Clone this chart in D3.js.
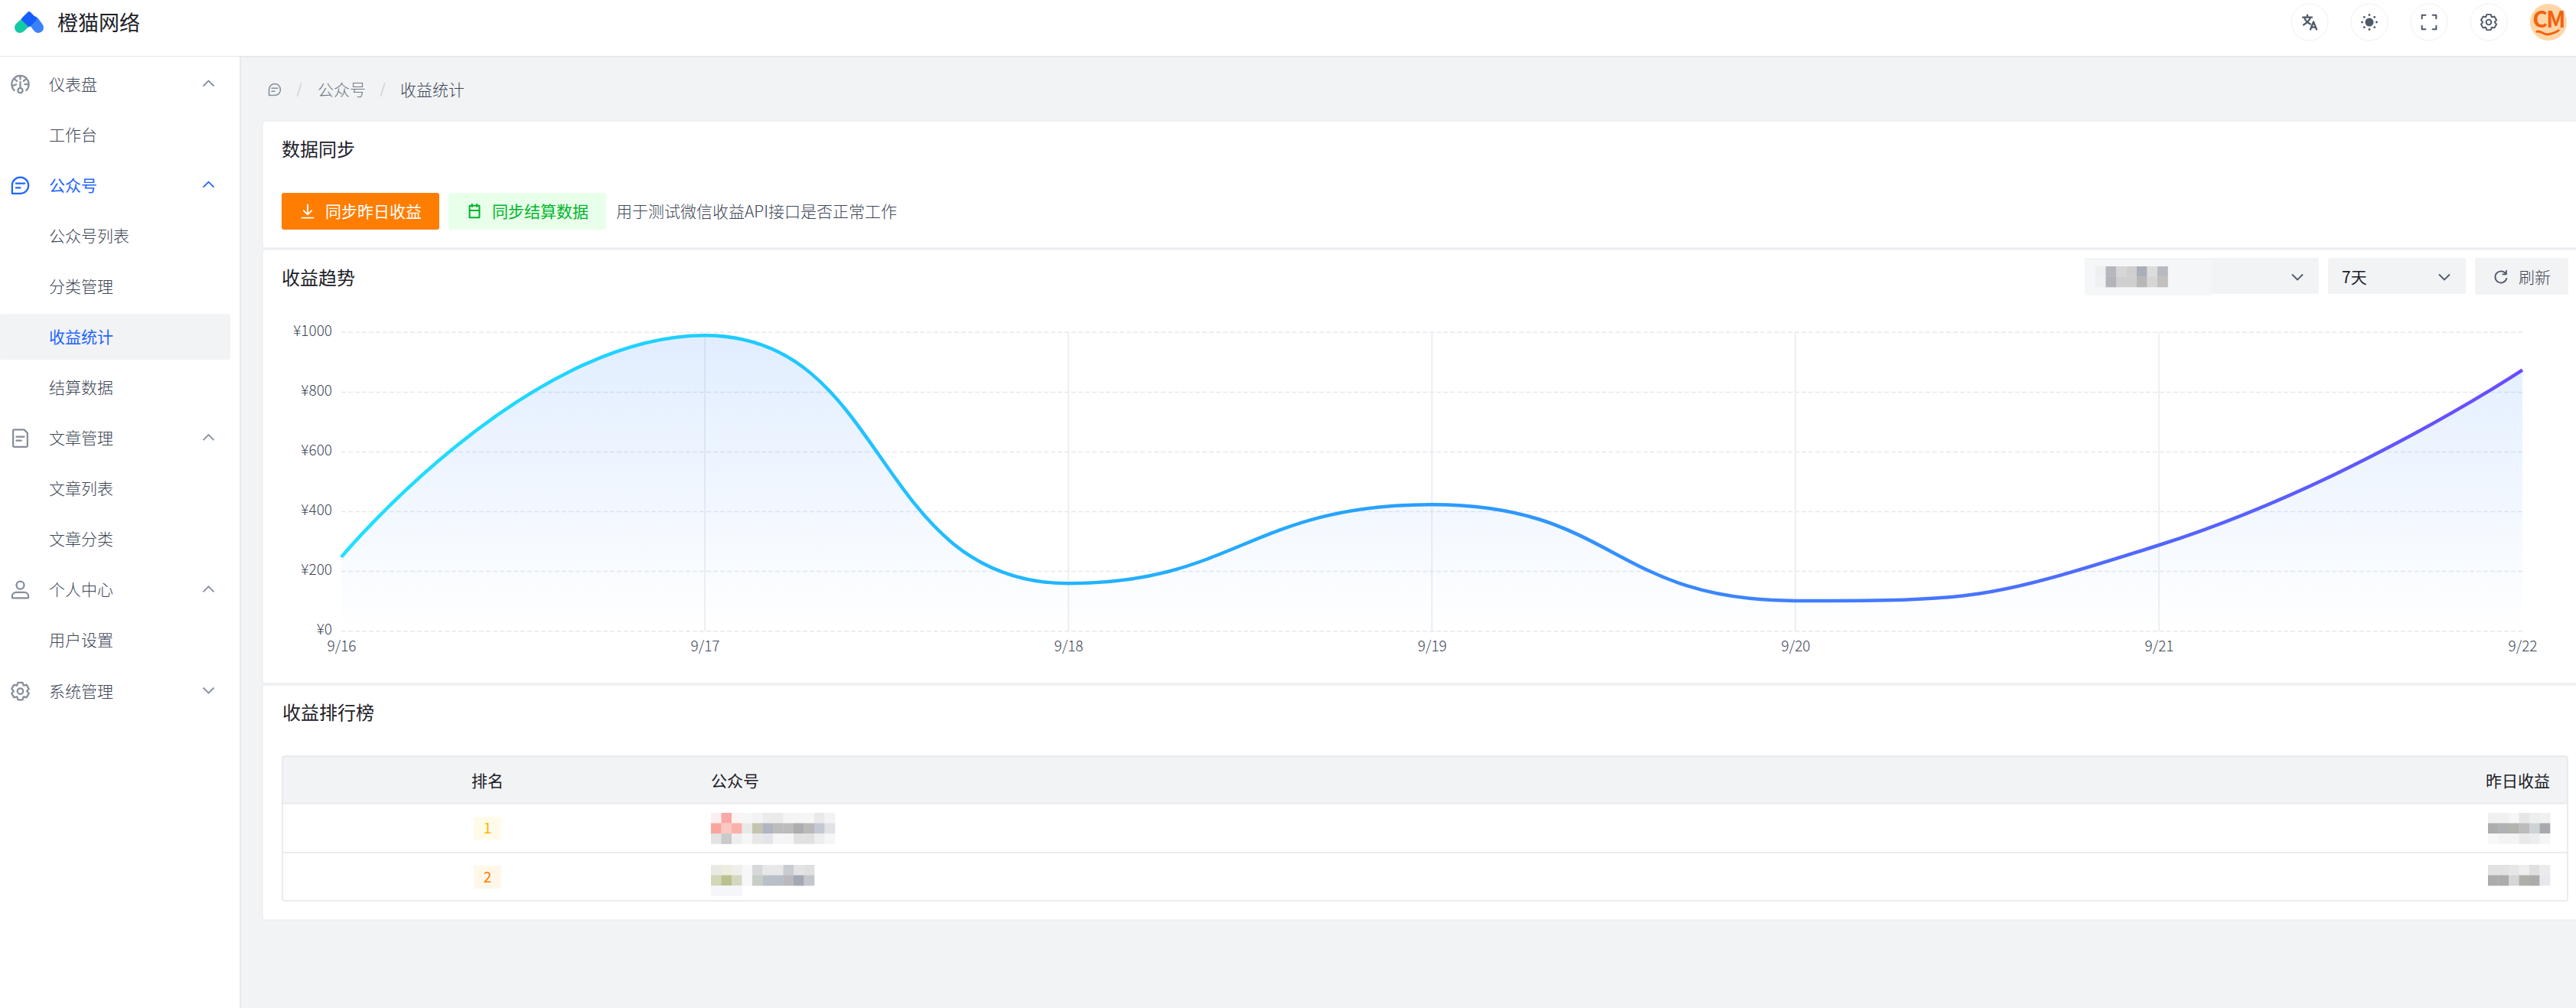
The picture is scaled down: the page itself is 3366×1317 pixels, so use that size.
<!DOCTYPE html>
<html>
<head>
<meta charset="utf-8">
<script src="https://cdn.jsdelivr.net/npm/d3@7"></script>
<style>
  html, body { margin: 0; background: #f2f3f5; overflow: hidden; }
  svg { display: block; }
  text { font-family: "Noto Sans CJK SC", "Noto Sans", sans-serif; font-weight: 400; }
  text.thin { font-weight: 300; }
</style>
</head>
<body>
<svg id="page" width="3366" height="1317"></svg>
<script>
// chart data
const dates = ["9/16", "9/17", "9/18", "9/19", "9/20", "9/21", "9/22"];
const income = [248, 990, 160, 424, 102, 288, 874];
const yTicks = [0, 200, 400, 600, 800, 1000];
const lineColors = ["#1fe0ff", "#20ceff", "#22b4ff", "#2a9eff", "#3f80ff", "#5266ff", "#6a4cff"];

// side menu
const menuLabels = ["仪表盘", "工作台", "公众号", "公众号列表", "分类管理", "收益统计", "结算数据", "文章管理", "文章列表", "文章分类", "个人中心", "用户设置", "系统管理"];
const menuIcons = ["dash", null, "chat", null, null, null, null, "file", null, null, "user", null, "gear"];

// ranking table
const rankNumbers = [1, 2];

// pixelated (redacted) blocks
const mosaicName1 = [
  ["#fbeeee", "#f9a8a8", "#fbf3f3", "#f6f6f6", "#f3f3f3", "#ebebeb", "#ebebeb", "#f5f5f7", "#f5f5f5", "#f6f6f6", "#e9e9e9", "#f3f3f6"],
  ["#f9a59d", "#fbc8c2", "#fbb0aa", "#e9e9e9", "#c4c4b0", "#b1b5c2", "#bcbcbc", "#bcbcbc", "#adadad", "#b9b9b9", "#c4c8d2", "#e0e2e6"],
  ["#e3e3e3", "#c8cacc", "#eeeeee", "#f6f6f6", "#e8e8e8", "#e3e5ea", "#f5f5f5", "#f5f5f5", "#e1e1e1", "#e1e1e1", "#eeeef0", "#f5f6f8"]
];
const mosaicName2 = [
  ["#e9e9e3", "#ececdf", "#efefe9", "#f8f6f8", "#d6d8da", "#e8e8e8", "#e8e8e8", "#c8ccd0", "#e3e3e5", "#dfdfdf"],
  ["#d3d6b8", "#bcc08c", "#d3d8c0", "#f6f6f6", "#c8cdc8", "#b9c0c8", "#b9bfc6", "#bbb8be", "#a4a8b2", "#c3c7cd"],
  ["#f5f6f9", "#f5f6f9", "#f5f6f9"]
];
const mosaicIncome1 = [
  ["#f0f0f2", "#f0f0f0", "#f6f6f8", "#e6e6e6", "#eceeef", "#f0f0ee"],
  ["#adadad", "#b0b2b4", "#b4b4ae", "#bcbcbc", "#ced4d6", "#a7a9ac"],
  ["#f8f8f8", "#f4f4f4", "#f4f4f4", "#e9e9e9", "#ebedee", "#f5f6f7"]
];
const mosaicIncome2 = [
  ["#e2e2e2", "#e2e2e2", "#e6e6e8", "#eeeeee", "#e0e0e0", "#ebebee"],
  ["#acacac", "#acacac", "#d6d6d8", "#b0b0aa", "#acacac", "#e8e8ec"]
];
const mosaicSelect = [
  ["#eeeff1", "#b5b7bd", "#d6d6d6", "#cfcfcf", "#a9aeb9", "#dcdcdc", "#b8babf"],
  ["#eff0f1", "#b3b4ba", "#cfcfcf", "#cfcfcf", "#b9b7b5", "#d6d6d6", "#c2bfbd"]
];

const BLUE = "#1f66ff", TEXT = "#4e5969", DARK = "#3c4656", TITLE = "#1d2129", LINE = "#e5e6eb", FILL = "#f2f3f5";

const svg = d3.select("#page");
const defs = svg.append("defs");

const addText = (parent, x, y, str, size, color, anchor = "start") =>
  parent.append("text").attr("x", x).attr("y", y).attr("dy", "0.36em")
    .attr("font-size", size).attr("fill", color).attr("text-anchor", anchor).text(str);

// thin grey copy, the original font is lighter than Noto regular
const addThin = (parent, x, y, str, size, color = DARK, anchor = "start") =>
  addText(parent, x, y, str, size, color, anchor).classed("thin", true);

const addRect = (parent, x, y, w, h, fill, r = 0) =>
  parent.append("rect").attr("x", x).attr("y", y).attr("width", w).attr("height", h)
    .attr("rx", r).attr("fill", fill);

// icons are written on a 48 unit box, centred on cx,cy
const iconPaths = {
  dash: "M41.808 24c.118 4.63-1.486 9.333-5.21 13m5.21-13h-8.309m8.309 0c-.112-4.38-1.767-8.694-4.627-12M24 6c5.531 0 10.07 2.404 13.18 6M24 6c-5.724 0-10.384 2.574-13.5 6.38M24 6v7.5M37.18 12 31 17.5m-20.5-5.12L17 17.5m-6.5-5.12C6.99 16.662 5.44 22.508 6.53 28m4.872 9c-2.65-2.609-4.226-5.742-4.873-9m0 0 8.97-3.5M24 32a5 5 0 1 0 0 10 5 5 0 0 0 0-10Zm0 0V19",
  chat: "M15 20h18m-18 9h9M7 41h17.63C33.67 41 41 33.67 41 24.63V24c0-9.389-7.611-17-17-17S7 14.611 7 24v17Z",
  file: "M16 21h16m-16 8h10m11 13H11a2 2 0 0 1-2-2V8a2 2 0 0 1 2-2h21l7 7v27a2 2 0 0 1-2 2Z",
  user: "M7 37c0-4.97 4.03-8 9-8h16c4.97 0 9 3.03 9 8v3a1 1 0 0 1-1 1H8a1 1 0 0 1-1-1v-3ZM32 14a8 8 0 1 1-16 0 8 8 0 0 1 16 0Z",
  gear: "M18.797 6.732A1 1 0 0 1 19.76 6h8.48a1 1 0 0 1 .964.732l1.285 4.628a1 1 0 0 0 1.213.7l4.651-1.2a1 1 0 0 1 1.116.468l4.24 7.344a1 1 0 0 1-.153 1.2L38.193 23.3a1 1 0 0 0 0 1.402l3.364 3.427a1 1 0 0 1 .153 1.2l-4.24 7.344a1 1 0 0 1-1.116.468l-4.65-1.2a1 1 0 0 0-1.214.7l-1.285 4.628a1 1 0 0 1-.964.732h-8.48a1 1 0 0 1-.963-.732L17.51 36.64a1 1 0 0 0-1.213-.7l-4.65 1.2a1 1 0 0 1-1.116-.468l-4.24-7.344a1 1 0 0 1 .153-1.2L9.809 24.7a1 1 0 0 0 0-1.402l-3.364-3.427a1 1 0 0 1-.153-1.2l4.24-7.344a1 1 0 0 1 1.116-.468l4.65 1.2a1 1 0 0 0 1.213-.7l1.286-4.628ZM30 24a6 6 0 1 1-12 0 6 6 0 0 1 12 0Z",
  down: "M24 6v26M13 22l11 11 11-11M8 42h32",
  calendar: "M10 8h28v34H10zM10 22h28M17 4v7M31 4v7",
  refresh: "M40 28a16.5 16.5 0 1 1-2-13M39 6v10H29",
  translate: "M6 11h24M18 5v6M10 11c2 8 8 14 16 18M26 11c-2 8-8 14-18 20M26 43l8-20 8 20M29 37h10",
  expand: "M8 16V8h8M32 8h8v8M40 32v8h-8M16 40H8v-8"
};

function addIcon(parent, key, cx, cy, size, color, width = 4) {
  parent.append("path").attr("d", iconPaths[key])
    .attr("transform", `translate(${cx - size / 2},${cy - size / 2}) scale(${size / 48})`)
    .attr("fill", "none").attr("stroke", color).attr("stroke-width", width)
    .attr("stroke-linecap", "round").attr("stroke-linejoin", "round");
}

function addChevron(parent, cx, cy, color, up) {
  const d = up ? -1 : 1;
  parent.append("path").attr("d", `M${cx - 7},${cy - d * 3.5}L${cx},${cy + d * 3.5}L${cx + 7},${cy - d * 3.5}`)
    .attr("fill", "none").attr("stroke", color).attr("stroke-width", 1.8);
}

function addMosaic(parent, rows, x0, y0, cell = 13.5) {
  rows.forEach((row, r) => {
    parent.append("g").selectAll("rect").data(row).join("rect")
      .attr("x", (d, i) => x0 + i * cell).attr("y", y0 + r * cell)
      .attr("width", cell + 0.3).attr("height", cell + 0.3).attr("fill", d => d);
  });
}

// ---------- page frame ----------
addRect(svg, 0, 0, 3366, 1317, FILL);
addRect(svg, 0, 0, 3366, 73, "#fff");
addRect(svg, 0, 73, 3366, 1.5, LINE);
addRect(svg, 0, 74, 313, 1243, "#fff");
addRect(svg, 313, 74, 2, 1243, "#e8e9ee");

// logo
const logo = svg.append("g").attr("fill", "none").attr("stroke-linecap", "round").attr("stroke-width", 14);
logo.append("line").attr("x1", 26).attr("y1", 36).attr("x2", 36).attr("y2", 27).attr("stroke", "#14c9a5");
logo.append("line").attr("x1", 44).attr("y1", 28).attr("x2", 50).attr("y2", 36).attr("stroke", "#3b82f7");
svg.append("path").attr("d", "M38,17L46,25L38,33L30,25Z").attr("fill", "#165dff")
  .attr("stroke", "#165dff").attr("stroke-width", 4).attr("stroke-linejoin", "round");
addText(svg, 75, 30, "橙猫网络", 27, TITLE);

// header buttons
const headerX = [3018, 3096, 3174, 3252];
svg.append("g").selectAll("ellipse").data(headerX).join("ellipse")
  .attr("cx", d => d).attr("cy", 29).attr("rx", 24).attr("ry", 24)
  .attr("fill", "#fff").attr("stroke", "#eff0f3").attr("stroke-width", 1);
addIcon(svg, "translate", headerX[0], 29, 24, TEXT, 4.5);
svg.append("circle").attr("cx", headerX[1]).attr("cy", 29).attr("r", 5.5).attr("fill", TEXT);
svg.append("g").selectAll("circle").data(d3.range(8)).join("circle")
  .attr("cx", d => headerX[1] + 9.5 * Math.cos(d * Math.PI / 4))
  .attr("cy", d => 29 + 9.5 * Math.sin(d * Math.PI / 4))
  .attr("r", 1.4).attr("fill", TEXT);
addIcon(svg, "expand", headerX[2], 29, 28, TEXT, 3.5);
addIcon(svg, "gear", headerX[3], 29, 27, TEXT, 3.5);

// avatar
svg.append("circle").attr("cx", 3330).attr("cy", 29).attr("r", 24).attr("fill", "#fdd6a8");
svg.append("text").attr("x", 3330).attr("y", 25).attr("dy", "0.36em").attr("text-anchor", "middle")
  .attr("font-size", 30).style("font-weight", 700).attr("letter-spacing", -2).attr("fill", "#f4620f").text("CM");
svg.append("path").attr("d", "M3314,42c5,-4 9,4 15,3s11,-2 15,-6").attr("fill", "none")
  .attr("stroke", "#f4620f").attr("stroke-width", 3);

// ---------- side menu ----------
addRect(svg, 0, 410, 301, 60, FILL, 3);
const menuY = d3.scaleLinear().domain([0, 12]).range([110, 903]);
menuLabels.forEach((label, i) => {
  const active = label === "公众号" || label === "收益统计";
  if (active) addText(svg, 64, menuY(i), label, 21, BLUE);
  else addThin(svg, 64, menuY(i), label, 21);
  if (menuIcons[i]) {
    addIcon(svg, menuIcons[i], 26.5, menuY(i), 30, active ? BLUE : "#868e9b", 3.6);
    addChevron(svg, 272.5, menuY(i) - 1, active ? BLUE : "#86909c", label !== "系统管理");
  }
});

// ---------- breadcrumb ----------
addIcon(svg, "chat", 359, 117, 21, "#86909c", 3.6);
addText(svg, 391, 117, "/", 18, "#c9cdd4", "middle");
addThin(svg, 415, 117, "公众号", 21, "#6f7885");
addText(svg, 500, 117, "/", 18, "#c9cdd4", "middle");
addThin(svg, 523, 117, "收益统计", 21);

// ---------- cards ----------
[[158, 166], [326, 567], [895, 307]].forEach(([top, h]) => {
  svg.append("rect").attr("x", 343).attr("y", top).attr("width", 3040).attr("height", h)
    .attr("rx", 3).attr("fill", "#fff").attr("stroke", "#e8e9ee").attr("stroke-width", 1);
});

// data sync card
addText(svg, 368, 195, "数据同步", 24, TITLE);
addRect(svg, 368, 252, 206, 48, "#ff7d00", 3);
addIcon(svg, "down", 402, 276, 23, "#fff", 3.8);
addText(svg, 425, 276, "同步昨日收益", 21, "#fff");
addRect(svg, 586, 252, 206, 48, "#e8ffea", 3);
addIcon(svg, "calendar", 620, 276, 22, "#00b42a", 4.5);
addText(svg, 643, 276, "同步结算数据", 21, "#00b42a");
addThin(svg, 805, 276, "用于测试微信收益API接口是否正常工作", 21);

// trend card header
addText(svg, 368, 363, "收益趋势", 24, TITLE);
addRect(svg, 2724, 337, 306, 47, FILL, 3);
addRect(svg, 2724, 339, 166, 47, "#f5f6f7", 3);
addMosaic(svg, mosaicSelect, 2738, 348);
addChevron(svg, 3002, 362, TEXT, false);
addRect(svg, 3042, 337, 180, 47, FILL, 3);
addText(svg, 3060, 362, "7天", 21, TITLE);
addChevron(svg, 3194, 362, TEXT, false);
addRect(svg, 3234, 337, 122, 48, FILL, 3);
addIcon(svg, "refresh", 3268, 362, 22, TEXT, 4);
addThin(svg, 3291, 362, "刷新", 21);

// ---------- income chart ----------
const x = d3.scalePoint().domain(dates).range([446, 3296]);
const y = d3.scaleLinear().domain([0, 1000]).range([824.7, 434.3]);

// same smoothing as the original chart lib: tangent from prev->next, clamped so peaks stay flat
function curveSmooth(context) {
  const smooth = 0.5;
  let pts = [], flag;
  return {
    areaStart() { flag = 0; },
    areaEnd() { flag = NaN; },
    lineStart() { pts = []; },
    point(px, py) { pts.push([px, py]); },
    lineEnd() {
      if (flag) context.lineTo(pts[0][0], pts[0][1]);
      else context.moveTo(pts[0][0], pts[0][1]);
      let cp0 = pts[0];
      for (let i = 0; i < pts.length - 1; i++) {
        const prev = pts[i], cur = pts[i + 1], next = pts[i + 2];
        if (!next) {
          context.bezierCurveTo(cp0[0], cp0[1], cur[0], cur[1], cur[0], cur[1]);
          break;
        }
        const lenPrev = Math.hypot(cur[0] - prev[0], cur[1] - prev[1]);
        const lenNext = Math.hypot(next[0] - cur[0], next[1] - cur[1]);
        const ratio = lenNext / (lenNext + lenPrev);
        const clamp = (v, a, b) => Math.max(Math.min(v, Math.max(a, b)), Math.min(a, b));
        const dx = next[0] - prev[0], dy = next[1] - prev[1];
        let nx = clamp(cur[0] + dx * smooth * ratio, next[0], cur[0]);
        let ny = clamp(cur[1] + dy * smooth * ratio, next[1], cur[1]);
        const cx = clamp(cur[0] - (nx - cur[0]) * lenPrev / lenNext, prev[0], cur[0]);
        const cy = clamp(cur[1] - (ny - cur[1]) * lenPrev / lenNext, prev[1], cur[1]);
        nx = cur[0] + (cur[0] - cx) * lenNext / lenPrev;
        ny = cur[1] + (cur[1] - cy) * lenNext / lenPrev;
        context.bezierCurveTo(cp0[0], cp0[1], cx, cy, cur[0], cur[1]);
        cp0 = [nx, ny];
      }
      if (flag) context.closePath();
      flag = 1 - flag;
    }
  };
}

const lineGrad = defs.append("linearGradient").attr("id", "lineGrad")
  .attr("gradientUnits", "userSpaceOnUse")
  .attr("x1", x.range()[0]).attr("x2", x.range()[1]).attr("y1", 0).attr("y2", 0);
lineGrad.selectAll("stop").data(lineColors).join("stop")
  .attr("offset", (d, i) => i / (lineColors.length - 1)).attr("stop-color", d => d);

const areaGrad = defs.append("linearGradient").attr("id", "areaGrad")
  .attr("gradientUnits", "userSpaceOnUse")
  .attr("x1", 0).attr("x2", 0).attr("y1", y(d3.max(income))).attr("y2", y(0));
areaGrad.append("stop").attr("offset", 0).attr("stop-color", "#1677ff").attr("stop-opacity", 0.13);
areaGrad.append("stop").attr("offset", 1).attr("stop-color", "#1677ff").attr("stop-opacity", 0);

const chart = svg.append("g");

// vertical grid, first and last category have none
chart.append("g").selectAll("line").data(dates.slice(1, -1)).join("line")
  .attr("x1", d => x(d)).attr("x2", d => x(d))
  .attr("y1", y(1000)).attr("y2", y(0))
  .attr("stroke", "#e8eaf1").attr("stroke-width", 1.5);

// horizontal grid
chart.append("g").selectAll("line").data(yTicks).join("line")
  .attr("x1", x.range()[0]).attr("x2", x.range()[1])
  .attr("y1", d => y(d)).attr("y2", d => y(d))
  .attr("stroke", "#e7e8f0").attr("stroke-width", 1.5).attr("stroke-dasharray", "6 3");

const points = dates.map((d, i) => ({ date: d, value: income[i] }));

chart.append("path").datum(points).attr("fill", "url(#areaGrad)")
  .attr("d", d3.area().x(d => x(d.date)).y0(y(0)).y1(d => y(d.value)).curve(curveSmooth));

chart.append("path").datum(points).attr("fill", "none")
  .attr("stroke", "url(#lineGrad)").attr("stroke-width", 4.5)
  .attr("d", d3.line().x(d => x(d.date)).y(d => y(d.value)).curve(curveSmooth));

const yAxis = chart.append("g").attr("transform", "translate(446,0)")
  .call(d3.axisLeft(y).tickValues(yTicks).tickFormat(d => "¥" + d).tickSize(0).tickPadding(12));
const xAxis = chart.append("g").attr("transform", "translate(0,824.7)")
  .call(d3.axisBottom(x).tickSize(0).tickPadding(13));
[yAxis, xAxis].forEach(axis => {
  axis.select(".domain").remove();
  axis.selectAll("text").attr("font-size", 19).attr("fill", DARK).classed("thin", true)
    .style("font-family", "'Noto Sans CJK SC', sans-serif");
});
yAxis.selectAll("text").attr("dy", "0.22em");

// ---------- ranking card ----------
addText(svg, 369, 931, "收益排行榜", 24, TITLE);
addRect(svg, 369, 988, 2986, 61, FILL, 3);
svg.append("rect").attr("x", 369).attr("y", 988).attr("width", 2986).attr("height", 189)
  .attr("rx", 3).attr("fill", "none").attr("stroke", LINE).attr("stroke-width", 1.5);
[1049, 1113].forEach(ly => addRect(svg, 369, ly, 2986, 1.5, LINE));
addText(svg, 637, 1020, "排名", 21, TITLE, "middle");
addText(svg, 929, 1020, "公众号", 21, TITLE);
addText(svg, 3332, 1020, "昨日收益", 21, TITLE, "end");

const rankY = d3.scalePoint().domain(rankNumbers).range([1082, 1146]);
const badgeFill = ["#fffbe8", "#fff7e8"], badgeText = ["#ffb400", "#ff7d00"];
rankNumbers.forEach((n, i) => {
  addRect(svg, 619, rankY(n) - 15, 36, 30, badgeFill[i], 3);
  addText(svg, 637, rankY(n), n, 19, badgeText[i], "middle");
});
addMosaic(svg, mosaicName1, 929, 1062);
addMosaic(svg, mosaicName2, 929, 1130);
addMosaic(svg, mosaicIncome1, 3251, 1062);
addMosaic(svg, mosaicIncome2, 3251, 1130);
</script>
</body>
</html>
